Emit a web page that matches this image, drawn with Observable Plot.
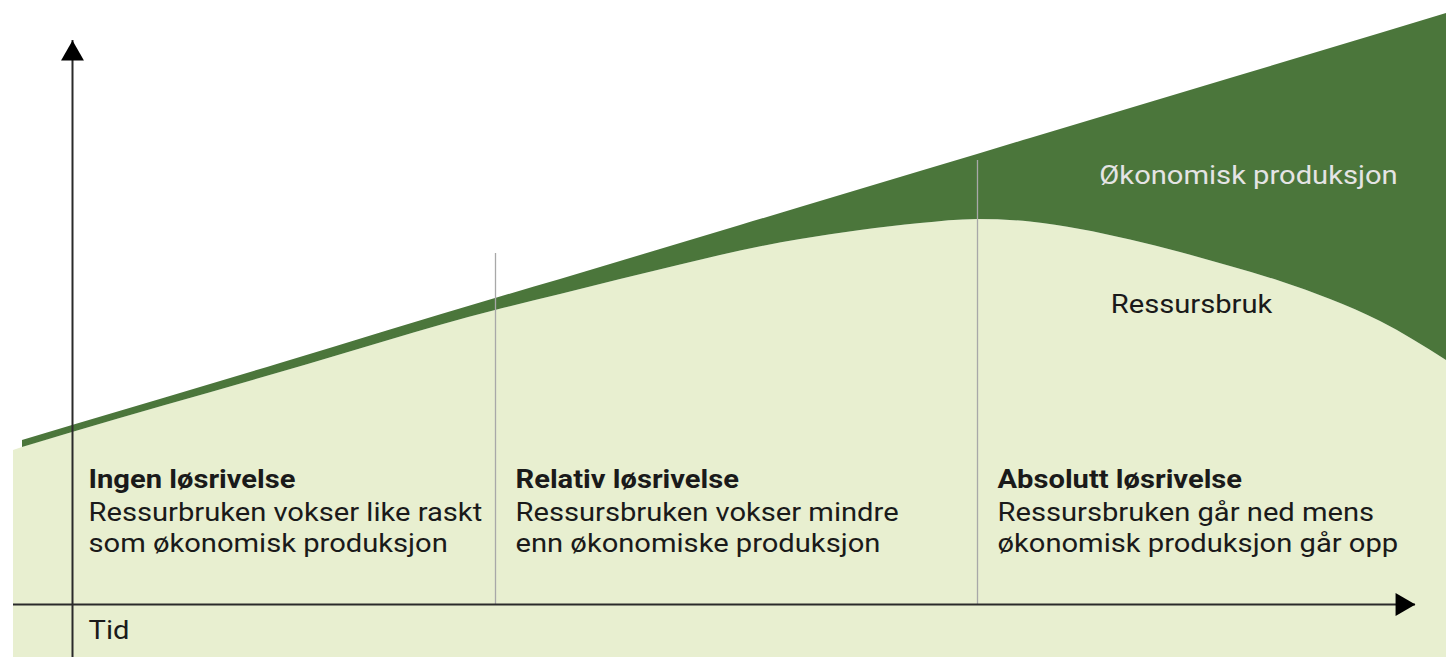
<!DOCTYPE html>
<html>
<head>
<meta charset="utf-8">
<script src="https://cdn.jsdelivr.net/npm/d3@7"></script>
<script src="https://cdn.jsdelivr.net/npm/@observablehq/plot@0.6"></script>
<style>
  html, body { margin: 0; padding: 0; background: #fff; overflow: hidden; }
  #chart svg { display: block; }
</style>
</head>
<body>
<div id="chart"></div>
<script>
// ---- Data (arbitrary units) ----
const time        = [-5.9, -5, 0, 20.8, 42.3, 48.8, 54.8, 60.8, 66.8, 72.8, 78.8, 84.8, 90.5, 95.8, 100.8, 105.8, 110.8, 115.8, 120.8, 125.8, 130.8, 137.4];
const production  = [null, 16.4, 17.9, 24.1, 30.6, 32.5, 34.3, 36.1, 37.9, 39.7, 41.5, 43.3, 45.0, 46.6, 48.1, 49.6, 51.1, 52.6, 54.1, 55.6, 57.1, 59.1];
const resources   = [15.4, 15.7, 17.2, 23.2, 29.4, 31.0, 32.5, 33.95, 35.35, 36.5, 37.4, 38.1, 38.5, 38.25, 37.5, 36.45, 35.2, 33.8, 32.3, 30.5, 28.3, 24.4];

// phase dividers (time, top of divider)
const phaseTimes  = [42.3, 90.5];
const phaseTops   = [35.1, 44.4];

// phase texts
const phaseX      = [1.6, 44.3, 92.5];
const phaseTitles = ["Ingen løsrivelse", "Relativ løsrivelse", "Absolutt løsrivelse"];
const phaseBodies = [
  "Ressurbruken vokser like raskt\nsom økonomisk produksjon",
  "Ressursbruken vokser mindre\nenn økonomiske produksjon",
  "Ressursbruken går ned mens\nøkonomisk produksjon går opp"
];
const titleY = 11.7, bodyY = 5.3;

// series labels
const seriesLabels = ["Økonomisk produksjon", "Ressursbruk"];
const seriesLabelX = [117.6, 111.9];
const seriesLabelY = [42.1, 29.2];

// axes extents
const xAxisStart = -5.9, xAxisEnd = 134.3;
const yAxisStart = -5.3, yAxisEnd = 56.4;
const axisLabel = "Tid";
const axisLabelPos = [1.6, -3.4];

// frame domains
const xDomain = [-7.2, 137.4];
const yDomain = [-5.3, 60.4];

// ---- Build tables ----
const rows = time.map((t, i) => ({t, prod: production[i], res: resources[i]}));
const prodRows = rows.filter(d => d.prod != null);
const phases = phaseTimes.map((t, i) => ({t, top: phaseTops[i]}));
const texts = phaseX.map((x, i) => ({x, title: phaseTitles[i], body: phaseBodies[i]}));
const labels = seriesLabels.map((s, i) => ({s, x: seriesLabelX[i], y: seriesLabelY[i]}));

const dark = "#4b763b", light = "#e8efd0", axisColor = "#2a2a2a";
const font = "Roboto, 'Noto Sans', sans-serif";

const chart = Plot.plot({
  width: 1446,
  height: 657,
  margin: 0,
  x: {domain: xDomain, axis: null},
  y: {domain: yDomain, axis: null},
  style: {fontFamily: font, background: "#fff", overflow: "visible"},
  marks: [
    Plot.areaY(rows, {x: "t", y1: yDomain[0], y2: "res", fill: light, curve: "monotone-x"}),
    Plot.areaY(prodRows, {x: "t", y1: "res", y2: "prod", fill: dark, curve: "monotone-x"}),
    Plot.ruleX(phases, {x: "t", y1: 0, y2: "top", stroke: "#a8a8a8", strokeWidth: 1.3}),
    Plot.ruleY([0], {x1: xAxisStart, x2: xAxisEnd, stroke: axisColor, strokeWidth: 2}),
    Plot.ruleX([0], {y1: yAxisStart, y2: yAxisEnd, stroke: axisColor, strokeWidth: 2}),
    Plot.dot([{x: 0, y: yAxisEnd}], {x: "x", y: "y", symbol: "triangle", r: 8.5, dy: 13.3, fill: "#000", stroke: "none"}),
    Plot.dot([{x: xAxisEnd, y: 0}], {x: "x", y: "y", symbol: "triangle", r: 8.5, dx: -13.3, rotate: 90, fill: "#000", stroke: "none"}),
    Plot.text(texts, {x: "x", y: () => titleY, text: "title", textAnchor: "start", lineAnchor: "bottom", fontSize: 26.5, fontWeight: 700, fill: "#1a1a1a"}),
    Plot.text(texts, {x: "x", y: () => bodyY, text: "body", textAnchor: "start", lineAnchor: "bottom", fontSize: 26.5, lineHeight: 1.17, fill: "#1a1a1a"}),
    Plot.text([axisLabel], {x: () => axisLabelPos[0], y: () => axisLabelPos[1], text: d => d, textAnchor: "start", lineAnchor: "bottom", fontSize: 26.5, fill: "#1a1a1a"}),
    Plot.text(labels, {x: "x", y: "y", text: "s", textAnchor: "middle", lineAnchor: "bottom", fontSize: 26.5,
      fill: (d, i) => i === 0 ? "#e4e4e4" : "#1a1a1a"})
  ]
});

// slight horizontal stretch of the text to match the reference's letter widths
chart.querySelectorAll("text").forEach(el => {
  const tr = el.getAttribute("transform");
  if (tr) el.setAttribute("transform", tr + " scale(1.1,1)");
});

document.getElementById("chart").appendChild(chart);
</script>
</body>
</html>
